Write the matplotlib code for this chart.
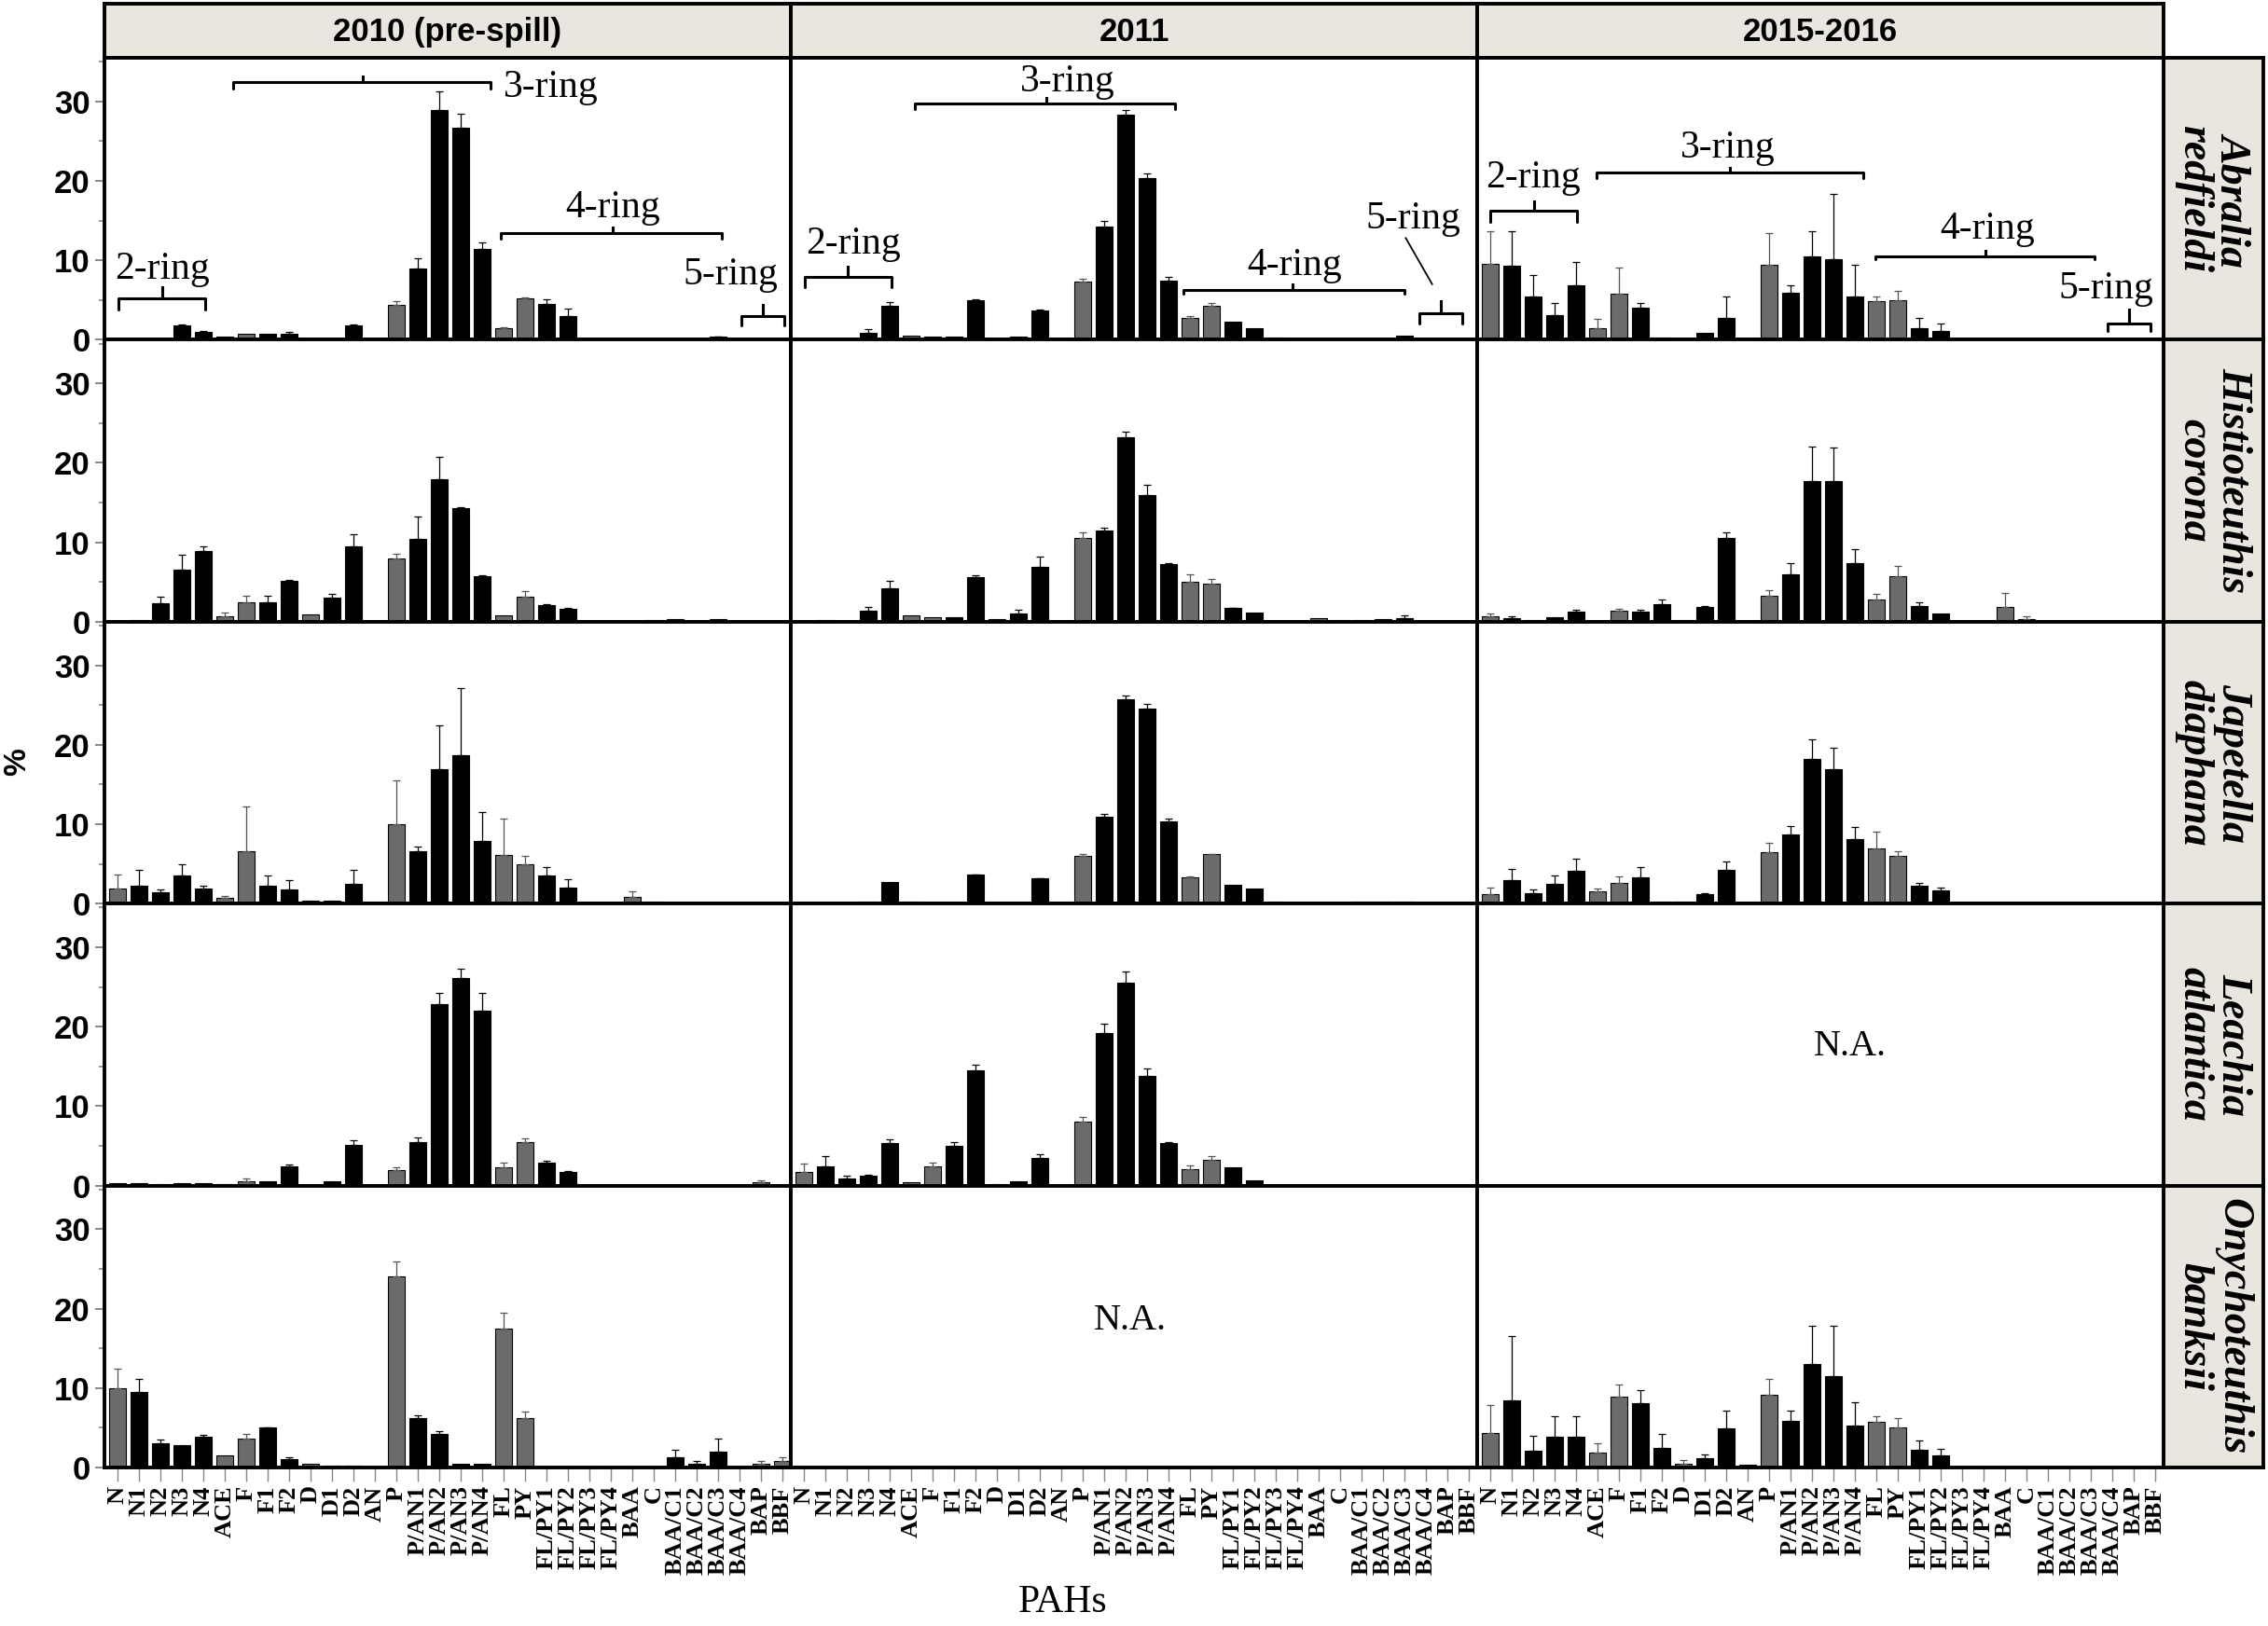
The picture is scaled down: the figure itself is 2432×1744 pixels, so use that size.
import numpy as np
import matplotlib
matplotlib.use('Agg')
import matplotlib.pyplot as plt
from matplotlib.ticker import MultipleLocator

# compounds on the x axis
pahs = ['N', 'N1', 'N2', 'N3', 'N4', 'ACE', 'F', 'F1', 'F2', 'D', 'D1', 'D2', 'AN',
        'P', 'P/AN1', 'P/AN2', 'P/AN3', 'P/AN4', 'FL', 'PY', 'FL/PY1', 'FL/PY2',
        'FL/PY3', 'FL/PY4', 'BAA', 'C', 'BAA/C1', 'BAA/C2', 'BAA/C3', 'BAA/C4',
        'BAP', 'BBF']
parents = ['N', 'ACE', 'F', 'D', 'AN', 'P', 'FL', 'PY', 'BAA', 'C', 'BAP', 'BBF']
years = ['2010 (pre-spill)', '2011', '2015-2016']
species = ['Abralia\nredfieldi', 'Histioteuthis\ncorona', 'Japetella\ndiaphana',
           'Leachia\natlantica', 'Onychoteuthis\nbanksii']

# mean % and SD
abralia_2010 = [0.1, 0.1, 0.2, 1.8, 1.0, 0.4, 0.7, 0.7, 0.8, 0, 0, 1.8, 0,
                4.4, 9.0, 28.9, 26.7, 11.4, 1.5, 5.2, 4.5, 3.0, 0, 0,
                0, 0, 0, 0, 0.35, 0, 0, 0]
abralia_2010_sd = [0, 0, 0, 0.1, 0.1, 0, 0, 0, 0.15, 0, 0, 0.1, 0,
                   0.5, 1.3, 2.4, 1.7, 0.9, 0.1, 0.1, 0.6, 0.9, 0, 0,
                   0, 0, 0, 0, 0.05, 0, 0, 0]
abralia_2011 = [0, 0, 0.1, 0.9, 4.3, 0.55, 0.45, 0.45, 5.0, 0, 0.4, 3.7, 0,
                7.3, 14.3, 28.3, 20.4, 7.5, 2.7, 4.3, 2.3, 1.5, 0.3, 0.05,
                0.15, 0, 0, 0, 0.5, 0, 0, 0]
abralia_2011_sd = [0, 0, 0, 0.4, 0.4, 0, 0, 0, 0.05, 0, 0, 0.05, 0,
                   0.4, 0.7, 0.6, 0.6, 0.4, 0.3, 0.3, 0, 0, 0, 0,
                   0, 0, 0, 0, 0, 0, 0, 0]
abralia_2015 = [9.6, 9.3, 5.5, 3.1, 6.8, 1.4, 5.8, 4.0, 0.3, 0.2, 0.9, 2.8, 0,
                9.4, 5.9, 10.5, 10.1, 5.4, 4.9, 5.0, 1.5, 1.1, 0, 0,
                0, 0, 0, 0, 0, 0, 0, 0]
abralia_2015_sd = [4.1, 4.4, 2.6, 1.5, 3.0, 1.2, 3.3, 0.6, 0, 0, 0, 2.7, 0,
                   4.0, 1.0, 3.2, 8.3, 4.0, 0.5, 1.1, 1.3, 0.9, 0, 0,
                   0, 0, 0, 0, 0, 0, 0, 0]

histio_2010 = [0.1, 0.25, 2.3, 6.5, 8.9, 0.7, 2.5, 2.5, 5.2, 0.9, 3.0, 9.5, 0,
               8.0, 10.4, 17.9, 14.3, 5.7, 0.75, 3.2, 2.1, 1.6, 0, 0,
               0, 0.2, 0.3, 0, 0.35, 0, 0, 0]
histio_2010_sd = [0, 0, 0.9, 1.9, 0.6, 0.4, 0.8, 0.8, 0.1, 0, 0.5, 1.5, 0,
                  0.6, 2.9, 2.9, 0.1, 0.1, 0, 0.7, 0.1, 0.1, 0, 0,
                  0, 0, 0, 0, 0, 0, 0, 0]
histio_2011 = [0, 0.2, 0, 1.4, 4.2, 0.8, 0.6, 0.6, 5.6, 0.3, 1.0, 6.9, 0,
               10.6, 11.5, 23.2, 16.0, 7.3, 5.0, 4.8, 1.7, 1.1, 0.15, 0,
               0.4, 0.2, 0.25, 0.3, 0.5, 0, 0, 0]
histio_2011_sd = [0, 0, 0, 0.4, 1.0, 0, 0, 0, 0.25, 0, 0.5, 1.3, 0,
                  0.6, 0.3, 0.7, 1.2, 0.1, 1.0, 0.6, 0.05, 0, 0, 0,
                  0, 0, 0, 0, 0.3, 0, 0, 0]
histio_2015 = [0.65, 0.45, 0.2, 0.55, 1.3, 0, 1.35, 1.3, 2.25, 0.2, 1.85, 10.5, 0,
               3.25, 5.95, 17.7, 17.65, 7.35, 2.8, 5.75, 2.0, 1.0, 0, 0,
               1.8, 0.35, 0, 0, 0, 0, 0, 0]
histio_2015_sd = [0.35, 0.2, 0, 0, 0.15, 0, 0.25, 0.25, 0.55, 0, 0.15, 0.7, 0,
                  0.75, 1.4, 4.4, 4.25, 1.75, 0.7, 1.25, 0.4, 0, 0, 0,
                  1.8, 0.3, 0, 0, 0, 0, 0, 0]

japetella_2010 = [1.9, 2.3, 1.4, 3.6, 1.9, 0.7, 6.6, 2.2, 1.8, 0.35, 0.35, 2.5, 0,
                  10.0, 6.6, 16.9, 18.7, 7.9, 6.1, 5.0, 3.5, 2.0, 0, 0,
                  0.9, 0.3, 0.15, 0, 0.1, 0, 0.1, 0]
japetella_2010_sd = [1.8, 1.9, 0.4, 1.3, 0.3, 0.3, 5.6, 1.4, 1.2, 0, 0, 1.7, 0,
                     5.5, 0.6, 5.6, 8.5, 3.6, 4.6, 1.0, 1.1, 1.1, 0, 0,
                     0.7, 0, 0, 0, 0, 0, 0, 0]
japetella_2011 = [0, 0, 0, 0.3, 2.75, 0.2, 0, 0, 3.65, 0, 0.15, 3.2, 0,
                  6.0, 10.95, 25.7, 24.6, 10.3, 3.35, 6.25, 2.4, 1.85, 0.25, 0.1,
                  0.1, 0.15, 0.2, 0.2, 0.3, 0, 0, 0]
japetella_2011_sd = [0, 0, 0, 0, 0, 0, 0, 0, 0.05, 0, 0, 0.05, 0,
                     0.3, 0.35, 0.5, 0.5, 0.35, 0.1, 0.05, 0, 0, 0, 0,
                     0, 0, 0, 0, 0, 0, 0, 0]
japetella_2015 = [1.2, 3.0, 1.3, 2.5, 4.1, 1.5, 2.65, 3.35, 0.25, 0.2, 1.25, 4.2, 0,
                  6.5, 8.7, 18.2, 16.9, 8.15, 6.9, 6.05, 2.3, 1.7, 0, 0,
                  0, 0.15, 0, 0, 0, 0, 0, 0]
japetella_2015_sd = [0.8, 1.4, 0.45, 1.05, 1.6, 0.45, 0.8, 1.25, 0, 0, 0.1, 1.05, 0,
                     1.2, 1.1, 2.5, 2.7, 1.55, 2.15, 0.6, 0.25, 0.35, 0, 0,
                     0, 0, 0, 0, 0, 0, 0, 0]

leachia_2010 = [0.35, 0.3, 0.2, 0.25, 0.3, 0.15, 0.55, 0.55, 2.4, 0, 0.55, 5.1, 0,
                1.9, 5.5, 22.9, 26.1, 22.0, 2.3, 5.5, 2.9, 1.75, 0, 0,
                0, 0, 0, 0, 0, 0, 0.4, 0]
leachia_2010_sd = [0, 0, 0, 0, 0, 0, 0.35, 0, 0.2, 0, 0, 0.6, 0,
                   0.4, 0.5, 1.3, 1.2, 2.2, 0.6, 0.4, 0.2, 0.1, 0, 0,
                   0, 0, 0, 0, 0, 0, 0.25, 0]
leachia_2011 = [1.75, 2.4, 0.9, 1.2, 5.3, 0.4, 2.4, 5.0, 14.5, 0.15, 0.55, 3.5, 0,
                8.0, 19.2, 25.5, 13.8, 5.3, 2.1, 3.2, 2.3, 0.7, 0, 0,
                0, 0, 0, 0, 0, 0, 0, 0]
leachia_2011_sd = [1.05, 1.35, 0.3, 0.15, 0.5, 0, 0.45, 0.5, 0.75, 0, 0, 0.4, 0,
                   0.6, 1.2, 1.4, 0.9, 0.2, 0.4, 0.5, 0, 0, 0, 0,
                   0, 0, 0, 0, 0, 0, 0, 0]

onycho_2010 = [10.0, 9.5, 3.0, 2.8, 3.9, 1.5, 3.6, 5.0, 1.0, 0.5, 0.25, 0.25, 0.05,
               24.1, 6.2, 4.2, 0.5, 0.45, 17.5, 6.2, 0.05, 0.05, 0.1, 0,
               0, 0.15, 1.3, 0.5, 2.0, 0, 0.5, 0.8]
onycho_2010_sd = [2.4, 1.6, 0.5, 0, 0.2, 0, 0.6, 0.1, 0.3, 0, 0, 0, 0,
                  1.8, 0.4, 0.4, 0, 0, 2.0, 0.8, 0, 0, 0, 0,
                  0, 0, 0.9, 0.3, 1.6, 0, 0.3, 0.5]
onycho_2015 = [4.4, 8.5, 2.1, 3.9, 3.9, 1.9, 8.9, 8.1, 2.5, 0.5, 1.2, 4.9, 0.3,
               9.2, 5.9, 13.0, 11.5, 5.3, 5.7, 5.0, 2.2, 1.5, 0, 0,
               0, 0, 0, 0, 0, 0, 0, 0]
onycho_2015_sd = [3.5, 8.1, 1.9, 2.5, 2.5, 1.2, 1.5, 1.7, 1.7, 0.4, 0.45, 2.3, 0,
                  1.9, 1.3, 4.9, 6.4, 2.9, 0.8, 1.2, 1.15, 0.8, 0, 0,
                  0, 0, 0, 0, 0, 0, 0, 0]

# None = not analysed
panels = [
    [(abralia_2010, abralia_2010_sd), (abralia_2011, abralia_2011_sd), (abralia_2015, abralia_2015_sd)],
    [(histio_2010, histio_2010_sd), (histio_2011, histio_2011_sd), (histio_2015, histio_2015_sd)],
    [(japetella_2010, japetella_2010_sd), (japetella_2011, japetella_2011_sd), (japetella_2015, japetella_2015_sd)],
    [(leachia_2010, leachia_2010_sd), (leachia_2011, leachia_2011_sd), None],
    [(onycho_2010, onycho_2010_sd), None, (onycho_2015, onycho_2015_sd)],
]

# ring group braces in the top row: label, x0, x1, xc, y, drop, rise, label x, label y, ha
ring_marks = [
    [('2-ring', 0.05, 4.1, 2.1, 5.2, 1.4, 1.4, 2.1, 8.9, 'center'),
     ('3-ring', 5.4, 17.4, 11.45, 32.4, 0.8, 0.8, 18.0, 31.8, 'left'),
     ('4-ring', 17.9, 28.2, 23.1, 13.4, 0.7, 0.7, 23.1, 16.6, 'center'),
     ('5-ring', 29.1, 31.1, 30.1, 3.0, 1.2, 1.4, 28.6, 8.2, 'center')],
    [('2-ring', 0.05, 4.1, 2.07, 7.9, 1.3, 1.3, 2.3, 12.1, 'center'),
     ('3-ring', 5.2, 17.3, 11.3, 29.7, 0.7, 0.8, 12.3, 32.5, 'center'),
     ('4-ring', 17.7, 28.0, 22.8, 6.25, 0.5, 0.7, 22.9, 9.4, 'center'),
     ('5-ring', 28.7, 30.7, 29.7, 3.3, 1.2, 1.6, 28.4, 15.2, 'center')],
    [('2-ring', 0.0, 4.06, 2.05, 16.2, 1.4, 1.2, 2.0, 20.4, 'center'),
     ('3-ring', 4.96, 17.4, 11.2, 21.1, 0.7, 0.6, 11.1, 24.2, 'center'),
     ('4-ring', 17.96, 28.2, 23.1, 10.5, 0.4, 0.7, 23.2, 13.9, 'center'),
     ('5-ring', 28.8, 30.8, 29.8, 2.05, 1.0, 1.7, 28.7, 6.4, 'center')],
]

W, H = 2432, 1744
fig = plt.figure(figsize=(W / 100, H / 100), dpi=100)

def fx(px):
    return px / W

def fy(py):
    return 1 - py / H

col_left = [112, 848, 1584]
col_w = 736
row_top = 62
row_h = 302.4
strip_col = '#e8e6df'
sans = ['Liberation Sans', 'DejaVu Sans']
serif = ['Liberation Serif', 'DejaVu Serif']
gray = '#6b6b6b'

x = np.arange(len(pahs))
is_parent = np.array([p in parents for p in pahs])
bar_colors = [gray if p else 'black' for p in is_parent]

# column strips
for c, yr in enumerate(years):
    sax = fig.add_axes([fx(col_left[c]), fy(62), fx(col_w), 58 / H])
    sax.set_facecolor(strip_col)
    sax.set_xticks([]); sax.set_yticks([])
    for s in sax.spines.values():
        s.set_linewidth(2.8)
    sax.text(0.5, 0.48, yr, ha='center', va='center', fontsize=25,
             fontweight='bold', family=sans, transform=sax.transAxes)

for r in range(5):
    top = row_top + r * row_h
    # row strip
    sax = fig.add_axes([fx(2320), fy(top + row_h), fx(107), row_h / H])
    sax.set_facecolor(strip_col)
    sax.set_xticks([]); sax.set_yticks([])
    for s in sax.spines.values():
        s.set_linewidth(2.8)
    sax.text(0.5, 0.5, species[r], rotation=-90, ha='center', va='center',
             fontsize=33, fontweight='bold', style='italic', family=serif,
             linespacing=1.0, transform=sax.transAxes)

    for c in range(3):
        ax = fig.add_axes([fx(col_left[c]), fy(top + row_h), fx(col_w), row_h / H])
        ax.set_xlim(-0.6, 31.4)
        ax.set_ylim(0, 35.5)
        for s in ax.spines.values():
            s.set_linewidth(2.8)
        data = panels[r][c]
        if data is None:
            ax.text(15.2 if c == 1 else 16.8, 18.5 if r == 4 else 17.5, 'N.A.',
                    ha='center', va='center', fontsize=29, family=serif)
        else:
            vals = np.array(data[0])
            sd = np.array(data[1])
            ax.bar(x, vals, width=0.8, color=bar_colors, edgecolor='black',
                   linewidth=0.8, zorder=2)
            for mask, ec in [(is_parent, '#555555'), (~is_parent, 'black')]:
                m = mask & (sd > 0)
                if m.any():
                    ax.errorbar(x[m], vals[m], yerr=[np.zeros(m.sum()), sd[m]],
                                fmt='none', ecolor=ec, elinewidth=0.9,
                                capsize=3, capthick=0.9, zorder=3)
        if c == 0:
            ax.yaxis.set_major_locator(MultipleLocator(10))
            ax.yaxis.set_minor_locator(MultipleLocator(5))
            ax.tick_params(axis='y', which='major', length=7, width=1.4,
                           color='#888888', labelsize=25, pad=4)
            ax.tick_params(axis='y', which='minor', length=4, width=1.2,
                           color='#888888')
            for lab in ax.get_yticklabels():
                lab.set_fontweight('bold')
                lab.set_family(sans)
        else:
            ax.set_yticks([])
            ax.yaxis.set_minor_locator(plt.NullLocator())
        if r == 4:
            ax.set_xticks(x)
            ax.set_xticklabels(pahs, rotation=90, fontsize=19, fontweight='bold',
                               family=serif)
            ax.tick_params(axis='x', length=11, width=1.0, color='#888888', pad=3)
        else:
            ax.set_xticks([])

        if r == 0:
            for (lab, x0, x1, xc, yl, drop, rise, tx, ty, ha) in ring_marks[c]:
                ax.plot([x0, x0, xc, xc, xc, x1, x1],
                        [yl - drop, yl, yl, yl + rise, yl, yl, yl - drop],
                        color='black', lw=2.2, solid_joinstyle='round',
                        solid_capstyle='round', zorder=4)
                ax.text(tx, ty, lab, ha=ha, va='center', fontsize=30, family=serif)
            if c == 1:
                ax.plot([28.07, 29.3], [12.8, 7.0], color='black', lw=1.3)

fig.text(fx(19), fy(817), '%', rotation=90, ha='center', va='center',
         fontsize=24, fontweight='bold', family=sans)
fig.text(fx(1140), fy(1719), 'PAHs', ha='center', va='center', fontsize=30,
         family=serif)

fig.savefig('out.png', dpi=100)
